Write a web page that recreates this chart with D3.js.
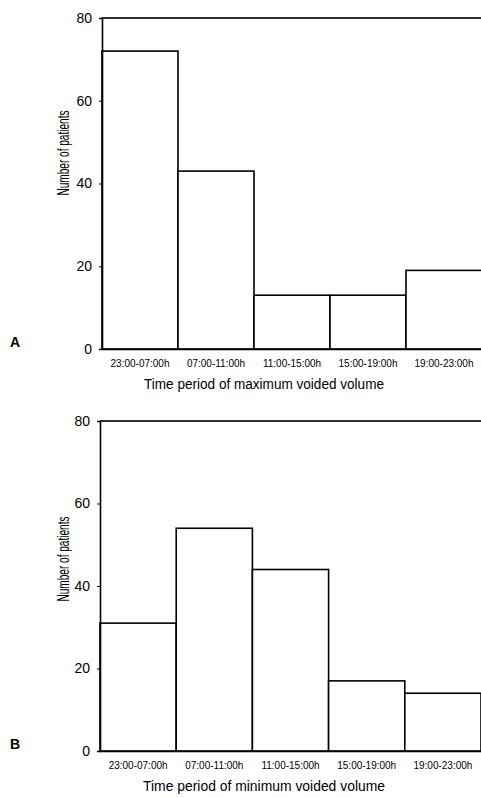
<!DOCTYPE html>
<html><head><meta charset="utf-8">
<script src="https://cdn.jsdelivr.net/npm/d3@7/dist/d3.min.js"></script>
<style>body{margin:0;background:#fff}svg{display:block;font-family:"Liberation Sans",Arial,sans-serif}</style>
</head><body><svg id="c" width="481" height="798"></svg>
<script>
const categories = ["23:00-07:00h","07:00-11:00h","11:00-15:00h","15:00-19:00h","19:00-23:00h"];
const maxValues = [72, 43, 13, 13, 19];
const minValues = [31, 54, 44, 17, 14];
const yTicks = [0, 20, 40, 60, 80];
const panelLetters = ["A", "B"];
const xTitles = ["Time period of maximum voided volume", "Time period of minimum voided volume"];
const yTitle = "Number of patients";

const svg = d3.select("#c");
const panels = [
  {values: maxValues, letter: panelLetters[0], title: xTitles[0], x0: 102, x1: 482, yTop: 18, yBot: 349, yLab: 153, tLen: 240},
  {values: minValues, letter: panelLetters[1], title: xTitles[1], x0: 100, x1: 481, yTop: 421, yBot: 751, yLab: 559, tLen: 242}
];

panels.forEach(p => {
  const g = svg.append("g");
  const x = d3.scaleBand().domain(categories).range([p.x0, p.x1]).padding(0);
  const y = d3.scaleLinear().domain([0, 80]).range([p.yBot, p.yTop]);

  // top frame line at 80
  g.append("line").attr("x1", p.x0).attr("x2", p.x1).attr("y1", y(80)).attr("y2", y(80))
    .attr("stroke", "#333").attr("stroke-width", 2);

  // bars
  g.selectAll("rect.bar").data(p.values).join("rect").attr("class", "bar")
    .attr("x", (d, i) => x(categories[i]))
    .attr("width", x.bandwidth())
    .attr("y", d => y(d))
    .attr("height", d => y(0) - y(d))
    .attr("fill", "#fff").attr("stroke", "#000").attr("stroke-width", 1.6);

  // y axis
  const ya = g.append("g").attr("transform", `translate(${p.x0},0)`)
    .call(d3.axisLeft(y).tickValues(yTicks).tickSize(3).tickPadding(7));
  ya.select(".domain").attr("stroke", "#000").attr("stroke-width", 1.6);
  ya.selectAll("text").attr("font-size", 14).attr("fill", "#000");

  // x axis
  const xa = g.append("g").attr("transform", `translate(0,${p.yBot})`)
    .call(d3.axisBottom(x).tickSize(0).tickPadding(11));
  xa.select(".domain").attr("stroke", "#000").attr("stroke-width", 1.6);
  xa.selectAll("text").attr("font-size", 10).attr("fill", "#000");

  // titles
  g.append("text").attr("x", 264).attr("y", p.yBot + 40)
    .attr("text-anchor", "middle").attr("font-size", 15.5)
    .attr("textLength", p.tLen).attr("lengthAdjust", "spacingAndGlyphs").text(p.title);
  g.append("text").attr("transform", `translate(69,${p.yLab}) rotate(-90)`)
    .attr("text-anchor", "middle").attr("font-size", 16)
    .attr("textLength", 85).attr("lengthAdjust", "spacingAndGlyphs").text(yTitle);
  g.append("text").attr("x", 10).attr("y", p.yBot - 2)
    .attr("font-size", 14).attr("font-weight", "bold").text(p.letter);
});
</script></body></html>
